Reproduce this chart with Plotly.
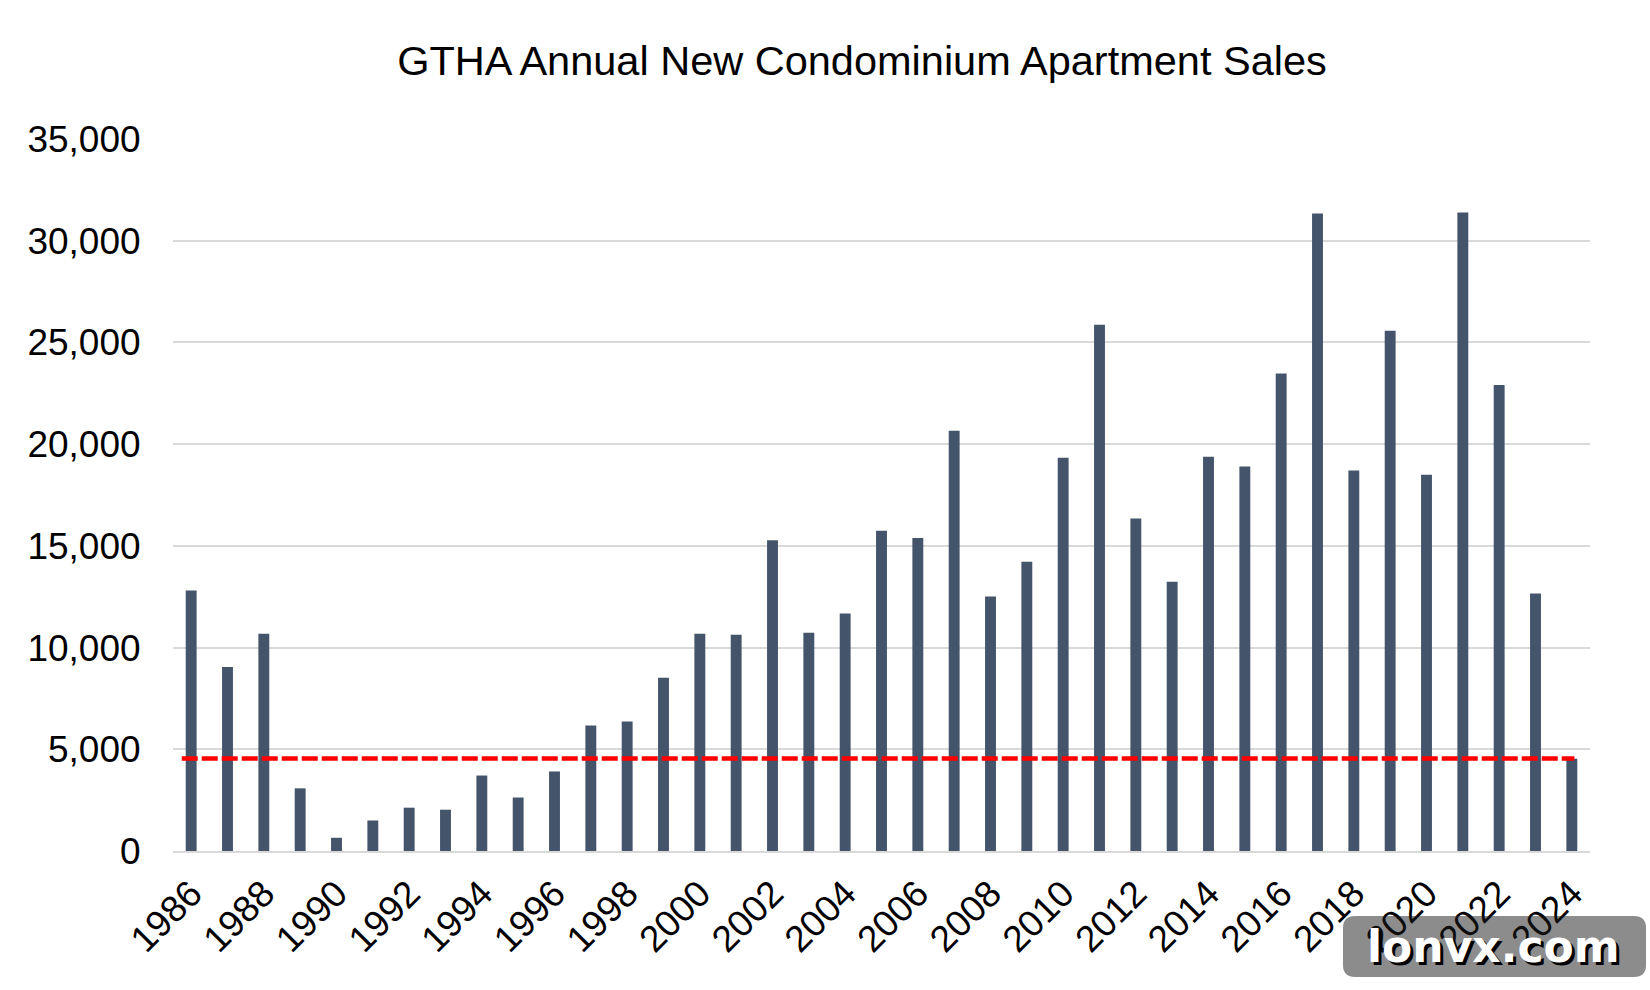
import plotly.graph_objects as go

# ---- data ----
years = list(range(1986, 2025))
sales = [12800, 9050, 10680, 3080, 650, 1500, 2130, 2030, 3710, 2630,
         3910, 6170, 6370, 8520, 10680, 10630, 15270, 10730, 11680, 15740,
         15390, 20660, 12510, 14220, 19330, 25870, 16350, 13240, 19380, 18900,
         23470, 31340, 18700, 25570, 18500, 31390, 22910, 12660, 4540]
reference_level = 4550
tick_years = years[::2]
y_ticks = [0, 5000, 10000, 15000, 20000, 25000, 30000, 35000]
title_text = "GTHA Annual New Condominium Apartment Sales"
watermark = "lonvx.com"

W, H = 1650, 990
L, R, T, B = 173, 60, 139, 139
FONT = "Liberation Sans, Arial, Helvetica, sans-serif"

fig = go.Figure()
fig.add_trace(go.Bar(
    x=years, y=sales, marker=dict(color="#44546A", line=dict(width=0)),
    hoverinfo="x+y", showlegend=False,
))
fig.add_trace(go.Scatter(
    x=[years[0] - 0.26, years[-1] + 0.07], y=[reference_level, reference_level],
    mode="lines", line=dict(color="#FF0000", width=4.5, dash="16px,4px"),
    hoverinfo="skip", showlegend=False,
))

# watermark box (pixel -> paper helpers)
pw, ph = W - L - R, H - T - B
def px_x(p):
    return (p - L) / pw
def px_y(p):
    return (H - B - p) / ph

x0, x1, y0, y1, r = 1343, 1646, 916, 977, 12
path = (f"M {px_x(x0 + r)} {px_y(y0)} L {px_x(x1 - r)} {px_y(y0)} "
        f"Q {px_x(x1)} {px_y(y0)} {px_x(x1)} {px_y(y0 + r)} "
        f"L {px_x(x1)} {px_y(y1 - r)} Q {px_x(x1)} {px_y(y1)} {px_x(x1 - r)} {px_y(y1)} "
        f"L {px_x(x0 + r)} {px_y(y1)} Q {px_x(x0)} {px_y(y1)} {px_x(x0)} {px_y(y1 - r)} "
        f"L {px_x(x0)} {px_y(y0 + r)} Q {px_x(x0)} {px_y(y0)} {px_x(x0 + r)} {px_y(y0)} Z")
fig.add_shape(type="path", path=path, xref="paper", yref="paper",
              fillcolor="rgba(25,25,25,0.5)", line=dict(width=0), layer="above")

cx, cy = (x0 + x1) / 2, (y0 + y1) / 2
for dx, col in ((3, "black"), (0, "white")):
    fig.add_annotation(
        x=px_x(cx + dx - 1), y=px_y(cy + dx), xref="paper", yref="paper",
        text=watermark, showarrow=False, xanchor="center", yanchor="middle",
        font=dict(family="DejaVu Sans", size=44, color=col, weight="bold"),
    )

fig.update_layout(
    width=W, height=H, autosize=False,
    margin=dict(l=L, r=R, t=T, b=B, pad=0),
    paper_bgcolor="white", plot_bgcolor="white",
    bargap=0.7,
    title=dict(text=title_text, x=862 / W, xanchor="center", xref="container",
               y=1 - 60 / H, yanchor="middle", yref="container",
               font=dict(family=FONT, size=41.5, color="#000000")),
    font=dict(family=FONT, color="#000000"),
    xaxis=dict(
        type="linear", range=[years[0] - 0.5, years[-1] + 0.5],
        tickmode="array", tickvals=tick_years, ticktext=[str(y) for y in tick_years],
        tickangle=-45, tickfont=dict(family=FONT, size=37, color="#000000"),
        showgrid=False, zeroline=False, showline=True, linecolor="#D9D9D9", linewidth=2,
        ticks="outside", ticklen=4, tickcolor="rgba(0,0,0,0)",
    ),
    yaxis=dict(
        range=[0, 35000], tickmode="array", tickvals=y_ticks,
        ticktext=[f"{v:,}" for v in y_ticks],
        tickfont=dict(family=FONT, size=37, color="#000000"),
        showgrid=True, gridcolor="#D9D9D9", gridwidth=2, zeroline=False, showline=False,
        ticks="outside", ticklen=24, tickcolor="rgba(0,0,0,0)",
    ),
)

fig.write_html("out.html")
